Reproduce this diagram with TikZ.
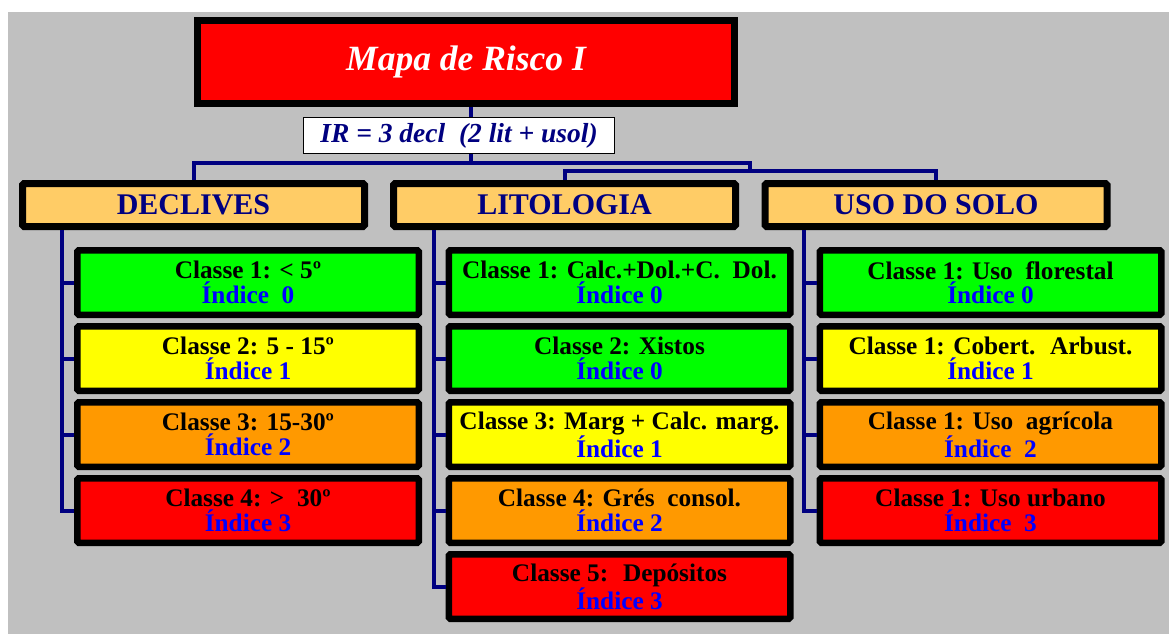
\documentclass[tikz,border=0pt]{standalone}
\usepackage{fontspec}
\setmainfont{Liberation Serif}
\definecolor{bggray}{HTML}{C0C0C0}
\definecolor{navyc}{HTML}{000080}
\definecolor{hdrfill}{HTML}{FFCC66}
\definecolor{cgreen}{HTML}{00FF00}
\definecolor{cyellow}{HTML}{FFFF00}
\definecolor{corange}{HTML}{FF9900}
\definecolor{cred}{HTML}{FF0000}
\definecolor{idxblue}{HTML}{0000FF}
\tikzset{
  titlebox/.style={draw=black, line width=7pt, fill=cred, minimum width=537pt, minimum height=83pt,
    inner sep=0pt, text=white, font=\fontsize{35.5}{35.5}\selectfont\bfseries\itshape},
  irbox/.style={draw=black, line width=1pt, fill=white, minimum width=311pt, minimum height=36pt,
    inner sep=0pt, text=navyc, font=\fontsize{27.5}{27.5}\selectfont\bfseries\itshape},
  hdrbox/.style={draw=black, line width=7pt, fill=hdrfill, rounded corners=1.5pt, minimum width=342pt, minimum height=43pt,
    inner sep=0pt, text=navyc, font=\fontsize{30}{30}\selectfont\bfseries},
  clsbox/.style={draw=black, line width=6.5pt, rounded corners=1.5pt, minimum width=341.5pt, minimum height=64.5pt,
    inner sep=0pt, align=center, font=\fontsize{25.3}{24.5}\selectfont\bfseries},
  conn/.style={draw=navyc, line width=4pt},
}
\newcommand{\idx}[1]{\textcolor{idxblue}{#1}}
\begin{document}
\begin{tikzpicture}[x=1pt,y=-1pt]
\useasboundingbox (0,0) rectangle (1169,634);
\fill[bggray] (8,12) rectangle (1169,634);

% coordinates for connectors
\coordinate (j) at (471,163);
\coordinate (k) at (750,171);
\coordinate (dx) at (62,0);
\coordinate (lx) at (434,0);
\coordinate (ux) at (804,0);

% title and formula
\node[titlebox] (title) at (466,62) {\raisebox{3pt}{Mapa de Risco I}};
\node[irbox] (ir) at (459,135.5) {IR = 3 decl~ (2 lit + usol)};

% headers
\node[hdrbox] (decl) at (193.5,205) {\raisebox{-2pt}{DECLIVES}};
\node[hdrbox] (lito) at (564.5,205) {\raisebox{-2pt}{LITOLOGIA}};
\node[hdrbox] (uso) at (936,205) {\raisebox{-2pt}{USO DO SOLO}};

% DECLIVES classes
\node[clsbox, fill=cgreen] (d1) at (248,282.5) {Classe 1: < 5º\\\idx{Índice~ 0}};
\node[clsbox, fill=cyellow] (d2) at (248,358.5) {Classe 2: 5 - 15º\\\idx{Índice 1}};
\node[clsbox, fill=corange] (d3) at (248,434.5) {Classe 3: 15-30º\\\idx{Índice 2}};
\node[clsbox, fill=cred] (d4) at (248,510.5) {Classe 4: > ~30º\\\idx{Índice 3}};

% LITOLOGIA classes
\node[clsbox, fill=cgreen] (l1) at (619.5,282.5) {Classe 1: Calc.+Dol.+C.~ Dol.\\\idx{Índice 0}};
\node[clsbox, fill=cgreen] (l2) at (619.5,358.5) {Classe 2: Xistos\\\idx{Índice 0}};
\node[clsbox, fill=cyellow] (l3) at (619.5,434.5) {Classe 3: Marg + Calc. marg.\\\idx{Índice 1}};
\node[clsbox, fill=corange] (l4) at (619.5,510.5) {Classe 4: Grés~ consol.\\\idx{Índice 2}};
\node[clsbox, fill=cred] (l5) at (619.5,586.5) {Classe 5:~ Depósitos\\\idx{Índice 3}};

% USO DO SOLO classes
\node[clsbox, fill=cgreen] (u1) at (990.5,282.5) {Classe 1: Uso~ florestal\\\idx{Índice 0}};
\node[clsbox, fill=cyellow] (u2) at (990.5,358.5) {Classe 1: Cobert.~ Arbust.\\\idx{Índice 1}};
\node[clsbox, fill=corange] (u3) at (990.5,434.5) {Classe 1: Uso~ agrícola\\\idx{Índice~ 2}};
\node[clsbox, fill=cred] (u4) at (990.5,510.5) {Classe 1: Uso urbano\\\idx{Índice~ 3}};

% top connectors
\draw[conn] (title.south -| j) -- (ir.north -| j);
\draw[conn] (ir.south -| j) -- (j) -| (decl.north);
\draw[conn] (j) -| (k);
\draw[conn] (k) -| (lito.north);
\draw[conn] (k) -| (uso.north);

% column connectors
\draw[conn] (decl.south -| dx) |- (d4.west);
\foreach \n in {d1,d2,d3} \draw[conn] (\n.west -| dx) -- (\n.west);
\draw[conn] (lito.south -| lx) |- (l5.west);
\foreach \n in {l1,l2,l3,l4} \draw[conn] (\n.west -| lx) -- (\n.west);
\draw[conn] (uso.south -| ux) |- (u4.west);
\foreach \n in {u1,u2,u3} \draw[conn] (\n.west -| ux) -- (\n.west);
\end{tikzpicture}
\end{document}
